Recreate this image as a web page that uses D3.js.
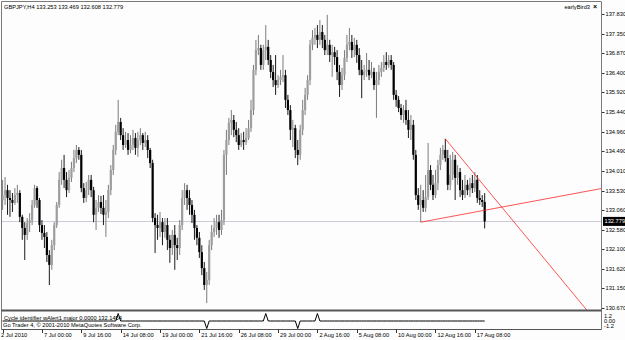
<!DOCTYPE html>
<html>
<head>
<meta charset="utf-8">
<script src="https://cdn.jsdelivr.net/npm/d3@7/dist/d3.min.js"></script>
<style>
  body { margin: 0; background: #fcfdfc; }
  svg { display: block; font-family: "Liberation Sans", Arial, sans-serif; }
</style>
</head>
<body>
<svg id="chart" width="625" height="340"></svg>
<script>
// GBPJPY H4 bars, 2 Jul 2010 .. 18 Aug 2010
const opens = [
  133.30,133.42,133.54,133.35,133.30,133.23,133.42,133.47,132.89,132.62,
  132.45,132.74,132.81,133.18,133.59,133.30,132.69,132.50,132.40,131.96,
  131.72,132.20,132.69,133.18,133.79,134.08,133.79,133.54,133.84,134.08,
  134.32,134.52,134.40,133.59,133.35,133.54,133.79,133.54,132.94,133.11,
  133.25,133.11,132.94,133.01,133.54,134.03,134.52,134.96,135.20,134.88,
  134.64,134.76,134.52,134.64,134.81,134.57,134.76,134.88,134.69,134.76,
  134.52,134.20,132.86,132.69,132.62,132.76,132.52,132.69,132.33,132.13,
  132.45,132.20,132.13,132.69,133.35,133.54,133.35,133.18,132.94,132.62,
  132.38,132.03,131.64,131.23,131.35,132.20,132.52,132.62,132.76,132.57,
  132.81,134.40,134.76,135.18,135.25,135.01,134.88,134.64,134.76,134.71,
  134.81,135.05,135.49,136.47,136.95,137.00,136.59,136.95,137.03,136.71,
  136.42,136.22,136.10,136.22,136.30,136.34,135.74,135.49,135.01,135.05,
  134.52,134.40,135.01,135.49,135.86,136.22,137.08,137.25,137.32,137.20,
  137.39,137.20,136.95,137.08,136.83,136.90,136.78,136.42,136.10,136.34,
  136.76,137.08,137.15,136.95,137.08,136.83,136.47,136.34,136.42,136.47,
  136.34,136.42,136.10,136.22,136.42,136.52,136.66,136.59,136.71,136.59,
  135.86,135.74,135.54,135.37,135.49,135.25,135.01,135.13,134.40,133.42,
  133.18,133.30,133.11,133.37,134.03,133.67,133.42,133.71,134.15,134.40,
  134.52,134.32,133.67,133.91,134.28,133.84,133.98,133.54,133.42,133.67,
  133.54,133.71,133.59,133.79,133.35,133.30,133.253
];
const highs = [
  133.79,133.86,133.67,133.54,133.47,133.59,133.67,133.54,132.94,132.76,
  132.86,132.98,133.30,133.67,133.64,133.35,132.81,132.69,132.52,132.08,
  132.33,132.76,133.25,133.98,134.28,134.40,133.98,134.03,134.23,134.52,
  134.64,134.59,134.52,133.71,133.74,133.91,133.91,133.62,133.30,133.42,
  133.40,133.42,133.30,133.67,134.15,134.64,135.13,135.74,135.30,135.05,
  134.96,134.93,134.88,135.01,134.93,134.96,135.05,134.93,134.96,134.88,
  134.57,134.28,132.98,132.94,133.01,132.86,132.86,132.86,132.45,132.57,
  132.69,132.38,132.81,133.54,133.71,133.67,133.54,133.30,133.06,132.69,
  132.52,132.20,131.79,131.55,132.33,132.69,132.86,132.94,132.94,133.06,
  134.52,135.01,135.30,135.49,135.37,135.20,135.05,134.93,134.96,135.05,
  135.25,135.74,136.59,137.20,137.32,137.08,137.08,137.56,137.20,136.83,
  136.59,136.83,136.34,136.47,136.83,136.47,135.86,135.61,135.25,135.13,
  134.76,135.13,135.74,136.03,136.34,137.20,137.44,137.49,137.56,137.68,
  137.56,137.32,137.81,137.20,137.08,137.03,136.95,136.59,136.52,136.95,
  137.32,137.49,137.32,137.25,137.20,137.00,136.71,136.59,136.88,136.71,
  136.66,136.52,136.42,136.59,136.66,136.83,136.90,136.83,136.83,136.66,
  135.98,135.83,135.64,135.61,135.74,135.49,135.37,135.25,134.52,133.59,
  133.67,133.54,133.91,134.69,134.15,133.91,134.03,134.28,134.57,134.64,
  134.79,134.52,134.40,134.47,134.40,134.15,134.08,133.79,133.91,133.79,
  133.84,133.91,133.98,133.91,133.54,133.42,133.469
];
const lows = [
  133.06,133.18,132.94,132.89,133.01,133.18,133.23,132.76,132.33,131.84,
  132.33,132.52,132.69,133.11,133.11,132.52,132.33,132.13,131.79,131.23,
  131.60,132.08,132.62,133.11,133.67,133.59,133.37,133.47,133.74,133.98,
  134.20,134.28,133.49,133.23,133.25,133.42,133.37,132.76,132.57,133.01,
  132.96,132.69,132.40,132.86,133.42,133.91,134.40,134.88,134.76,134.52,
  134.57,134.40,134.44,134.52,134.40,134.35,134.64,134.52,134.59,134.32,
  134.08,132.76,132.01,132.33,132.40,132.20,132.38,132.08,131.77,131.96,
  131.60,131.84,131.96,132.57,133.18,133.06,132.94,132.74,132.33,132.20,
  131.89,131.47,131.11,130.79,131.23,132.08,132.40,132.45,132.38,132.45,
  132.69,133.91,134.64,134.88,134.83,134.71,134.52,134.59,134.52,134.64,
  134.76,134.96,135.37,136.34,136.83,136.47,136.47,136.71,136.59,136.27,
  136.05,135.86,136.03,136.10,136.17,135.54,135.37,134.76,134.59,134.32,
  134.15,134.28,134.88,135.37,135.74,136.10,136.95,137.08,137.00,137.08,
  137.00,136.83,136.83,136.66,136.30,136.59,136.22,135.81,135.98,136.22,
  136.66,136.95,136.76,136.78,136.64,136.34,135.78,136.22,136.30,136.22,
  136.27,135.98,135.30,136.10,136.30,136.42,136.47,136.52,136.47,135.74,
  135.57,135.44,135.25,135.18,135.13,134.81,134.76,134.28,133.30,133.06,
  132.76,133.01,133.01,133.30,133.54,133.30,133.35,133.54,134.03,134.28,
  134.23,133.54,133.54,133.79,133.30,133.67,133.37,133.30,133.35,133.42,
  133.37,133.47,133.49,133.23,133.18,133.13,132.608
];
const closes = [
  133.42,133.54,133.35,133.30,133.23,133.42,133.47,132.89,132.62,132.45,
  132.74,132.81,133.18,133.59,133.30,132.69,132.50,132.40,131.96,131.72,
  132.20,132.69,133.18,133.79,134.08,133.79,133.54,133.84,134.08,134.32,
  134.52,134.40,133.59,133.35,133.54,133.79,133.54,132.94,133.11,133.25,
  133.11,132.94,133.01,133.54,134.03,134.52,134.96,135.20,134.88,134.64,
  134.76,134.52,134.64,134.81,134.57,134.76,134.88,134.69,134.76,134.52,
  134.20,132.86,132.69,132.62,132.76,132.52,132.69,132.33,132.13,132.45,
  132.20,132.13,132.69,133.35,133.54,133.35,133.18,132.94,132.62,132.38,
  132.03,131.64,131.23,131.35,132.20,132.52,132.62,132.76,132.57,132.81,
  134.40,134.76,135.18,135.25,135.01,134.88,134.64,134.76,134.71,134.81,
  135.05,135.49,136.47,136.95,137.00,136.59,136.95,137.03,136.71,136.42,
  136.22,136.10,136.22,136.30,136.34,135.74,135.49,135.01,135.05,134.52,
  134.40,135.01,135.49,135.86,136.22,137.08,137.25,137.32,137.20,137.39,
  137.20,136.95,137.08,136.83,136.90,136.78,136.42,136.10,136.34,136.76,
  137.08,137.15,136.95,137.08,136.83,136.47,136.34,136.42,136.47,136.34,
  136.42,136.10,136.22,136.42,136.52,136.66,136.59,136.71,136.59,135.86,
  135.74,135.54,135.37,135.49,135.25,135.01,135.13,134.40,133.42,133.18,
  133.30,133.11,133.37,134.03,133.67,133.42,133.71,134.15,134.40,134.52,
  134.32,133.67,133.91,134.28,133.84,133.98,133.54,133.42,133.67,133.54,
  133.71,133.59,133.79,133.35,133.30,133.253,132.779
];

const priceTicks = [137.830,137.350,136.870,136.400,135.920,135.440,134.960,134.490,
                    134.010,133.530,133.060,132.580,132.100,131.620,131.150,130.670];
const timeLabelBars = [0,16,32,48,64,80,96,112,128,144,160,176,192];
const timeLabels = ["2 Jul 2010","7 Jul 00:00","9 Jul 16:00","14 Jul 08:00","19 Jul 00:00",
  "21 Jul 16:00","26 Jul 08:00","29 Jul 00:00","2 Aug 16:00","5 Aug 08:00",
  "10 Aug 00:00","12 Aug 16:00","17 Aug 08:00"];

// trend lines (rays): start bar/price, second bar/price
const trendFromBar = [170, 180];
const trendFromPrice = [132.76, 134.79];
const trendToBar = [196, 196];
const trendToPrice = [133.05, 133.63];

// Cycle identifier signals
const cycleBars = [47, 83, 107, 120, 128];
const cycleValues = [1.2, -1.2, 1.2, -1.2, 1.2];
const cycleAxis = [1.2, 0, -1.2];

const svg = d3.select('#chart');
const W = 625, H = 340;
const plot = { left: 2, right: 601, top: 2, bottom: 310 };
const sub = { top: 311, bottom: 329.5 };
const fontSize = 5.7;

const n = closes.length;
const x = d3.scaleLinear().domain([0, 243.3]).range([2.6, 601]);
const y = d3.scaleLinear().domain([130.67, 137.83]).range([308, 14]);
const yInd = d3.scaleLinear().domain([-1.2, 1.2]).range([328.5, 313.5]);
const yIndLabel = d3.scaleLinear().domain([-1.2, 1.2]).range([326, 315.5]);

svg.append('rect').attr('width', W).attr('height', H).attr('fill', '#fcfdfc');

svg.append('defs').append('clipPath').attr('id', 'plotClip')
  .append('rect')
  .attr('x', plot.left).attr('y', plot.top)
  .attr('width', plot.right - plot.left).attr('height', plot.bottom - plot.top);

// bid line
const last = closes[n - 1];
svg.append('line')
  .attr('x1', plot.left).attr('x2', plot.right)
  .attr('y1', Math.round(y(last)) + 0.5).attr('y2', Math.round(y(last)) + 0.5)
  .attr('stroke', '#cfcad8').attr('stroke-width', 1);

// candles
const bars = d3.range(n).map(i => ({ i, o: opens[i], h: highs[i], l: lows[i], c: closes[i] }));
const bullBody = '#9e9e9e', bullWick = '#7c7c7c', bear = '#000000';

const cg = svg.append('g').attr('clip-path', 'url(#plotClip)');
cg.selectAll('line.wick')
  .data(bars)
  .enter().append('line')
  .attr('class', 'wick')
  .attr('x1', d => x(d.i)).attr('x2', d => x(d.i))
  .attr('y1', d => y(d.h)).attr('y2', d => y(d.l))
  .attr('stroke', d => d.c >= d.o ? bullWick : '#1a1a1a')
  .attr('stroke-width', 1);

cg.selectAll('rect.body')
  .data(bars)
  .enter().append('rect')
  .attr('class', 'body')
  .attr('x', d => x(d.i) - 1.1)
  .attr('width', 2.2)
  .attr('y', d => y(Math.max(d.o, d.c)))
  .attr('height', d => Math.max(0.8, Math.abs(y(d.o) - y(d.c))))
  .attr('fill', d => d.c >= d.o ? bullBody : bear);

// trend rays
const xEnd = x.domain()[1];
const rays = trendFromBar.map((b, k) => {
  const slope = (trendToPrice[k] - trendFromPrice[k]) / (trendToBar[k] - b);
  return { x1: b, p1: trendFromPrice[k], x2: xEnd, p2: trendFromPrice[k] + slope * (xEnd - b) };
});
cg.selectAll('line.trend')
  .data(rays)
  .enter().append('line')
  .attr('class', 'trend')
  .attr('x1', d => x(d.x1)).attr('y1', d => y(d.p1))
  .attr('x2', d => x(d.x2)).attr('y2', d => y(d.p2))
  .attr('stroke', '#ff2020').attr('stroke-width', 0.9).attr('stroke-opacity', 0.85);

// frame
const frame = svg.append('g').attr('fill', 'none');
frame.append('line').attr('x1', 1.5).attr('x2', 1.5).attr('y1', 1.5).attr('y2', sub.bottom)
  .attr('stroke', '#7a7a7a');
frame.append('line').attr('x1', 1.5).attr('x2', plot.right).attr('y1', 1.5).attr('y2', 1.5)
  .attr('stroke', '#7a7a7a');
frame.append('line').attr('x1', plot.right + 0.5).attr('x2', plot.right + 0.5).attr('y1', 1.5).attr('y2', sub.bottom)
  .attr('stroke', '#7a7a7a');
frame.append('line').attr('x1', 1.5).attr('x2', plot.right + 0.5).attr('y1', 310.5).attr('y2', 310.5)
  .attr('stroke', '#555').attr('stroke-width', 2);
frame.append('line').attr('x1', 1.5).attr('x2', plot.right + 0.5).attr('y1', sub.bottom).attr('y2', sub.bottom)
  .attr('stroke', '#555').attr('stroke-width', 1);

// price axis
const pa = svg.append('g').attr('font-size', fontSize).attr('fill', '#000');
pa.selectAll('line.ptick').data(priceTicks).enter().append('line')
  .attr('x1', plot.right + 1).attr('x2', plot.right + 3.5)
  .attr('y1', d => Math.round(y(d)) + 0.5).attr('y2', d => Math.round(y(d)) + 0.5)
  .attr('stroke', '#333');
pa.selectAll('text.plabel').data(priceTicks).enter().append('text')
  .attr('x', plot.right + 4.5).attr('y', d => y(d) + 2)
  .text(d => d.toFixed(3));

// current price box
svg.append('rect')
  .attr('x', plot.right + 2).attr('y', y(last) - 4.5)
  .attr('width', W - plot.right - 2).attr('height', 9).attr('fill', '#000');
svg.append('text')
  .attr('x', plot.right + 3.5).attr('y', y(last) + 2)
  .attr('font-size', fontSize).attr('fill', '#fff')
  .text(last.toFixed(3));

// indicator window
const indVals = d3.range(n).map(i => {
  const k = cycleBars.indexOf(i);
  return k >= 0 ? cycleValues[k] : 0;
});
svg.append('text')
  .attr('x', 4).attr('y', 319.5).attr('font-size', fontSize)
  .text('Cycle identifier wAlert1 major 0.0000 132.1454');
svg.append('path')
  .datum(indVals)
  .attr('fill', 'none').attr('stroke', '#000').attr('stroke-width', 1)
  .attr('d', d3.line().x((d, i) => x(i)).y(d => yInd(d)));
svg.append('text')
  .attr('x', 3).attr('y', 327.3).attr('font-size', fontSize)
  .text('Go Trader 4, \u00a9 2001-2010 MetaQuotes Software Corp.');
svg.selectAll('text.ilabel').data(cycleAxis).enter().append('text')
  .attr('x', plot.right + 3).attr('y', d => yIndLabel(d) + 2)
  .attr('font-size', fontSize)
  .text(d => d === 0 ? '0.00' : d.toFixed(1));

// time axis
const ta = svg.append('g').attr('font-size', fontSize);
ta.selectAll('line.ttick').data(timeLabelBars).enter().append('line')
  .attr('x1', d => Math.round(x(d)) + 0.5).attr('x2', d => Math.round(x(d)) + 0.5)
  .attr('y1', sub.bottom).attr('y2', sub.bottom + 3.5)
  .attr('stroke', '#333');
ta.selectAll('text.tlabel').data(timeLabelBars).enter().append('text')
  .attr('x', (d, k) => k === 0 ? 1 : x(d) + 2)
  .attr('y', 337)
  .text((d, k) => timeLabels[k]);

// header texts
svg.append('text').attr('x', 4).attr('y', 8.5).attr('font-size', fontSize)
  .text('GBPJPY,H4  133.253 133.469 132.608 132.779');
svg.append('text').attr('x', 590).attr('y', 8.5).attr('font-size', fontSize)
  .attr('text-anchor', 'end').text('earlyBird3');
svg.append('text').attr('x', 593).attr('y', 8.8).attr('font-size', 7)
  .attr('font-weight', 'bold').text('\u00d7');
</script>
</body>
</html>
